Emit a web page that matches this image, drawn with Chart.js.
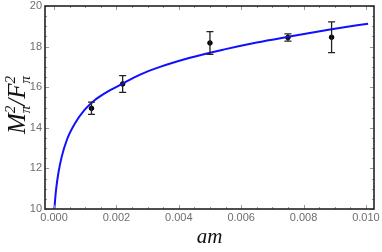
<!DOCTYPE html>
<html>
<head>
<meta charset="utf-8">
<script src="https://cdn.jsdelivr.net/npm/chart.js@4/dist/chart.umd.min.js"></script>
<style>
  html, body { margin: 0; padding: 0; background: #fff; }
  #wrap { width: 382px; height: 252px; }
</style>
</head>
<body>
<div id="wrap"><canvas id="c" width="382" height="252"></canvas></div>
<script>
// lattice points (am, M^2/F^2) with errors
var amPoints = [0.0012, 0.0022, 0.0050, 0.0075, 0.0089];
var ratioPoints = [14.96, 16.16, 18.18, 18.45, 18.46];
var ratioErrors = [0.30, 0.41, 0.56, 0.18, 0.76];

// fit curve
var amCurve = [0.00001, 0.000064, 0.000138, 0.000247, 0.00041, 0.000673, 0.000978, 0.00131, 0.00169, 0.00212, 0.00276, 0.0034, 0.00436, 0.00543, 0.0065, 0.00746, 0.00885, 0.01007];
var ratioCurve = [10.0, 10.94, 11.76, 12.58, 13.40, 14.22, 14.88, 15.37, 15.76, 16.11, 16.62, 17.0, 17.45, 17.85, 18.2, 18.47, 18.84, 19.13];

var xTickLabels = ["0.000", "0.002", "0.004", "0.006", "0.008", "0.010"];
var yTickLabels = ["10", "12", "14", "16", "18", "20"];

var tickFont = "11px 'Liberation Sans', Arial, sans-serif";
var tickColor = "#6e6e6e";

var curveData = amCurve.map(function (x, i) { return { x: x, y: ratioCurve[i] }; });
var pointData = amPoints.map(function (x, i) { return { x: x, y: ratioPoints[i] }; });

// error bars + inward frame ticks + axis titles
var framePlugin = {
    id: "frame",
    afterDatasetsDraw: function (chart) {
        var ctx = chart.ctx;
        var xs = chart.scales.x, ys = chart.scales.y;

        // error bars
        ctx.save();
        ctx.strokeStyle = "#222";
        ctx.lineWidth = 1.3;
        for (var i = 0; i < amPoints.length; i++) {
            var px = xs.getPixelForValue(amPoints[i]);
            var top = ys.getPixelForValue(ratioPoints[i] + ratioErrors[i]);
            var bot = ys.getPixelForValue(ratioPoints[i] - ratioErrors[i]);
            ctx.beginPath();
            ctx.moveTo(px, top); ctx.lineTo(px, bot);
            ctx.moveTo(px - 3.5, top); ctx.lineTo(px + 3.5, top);
            ctx.moveTo(px - 3.5, bot); ctx.lineTo(px + 3.5, bot);
            ctx.stroke();
        }
        ctx.restore();
    },
    afterDraw: function (chart) {
        var ctx = chart.ctx;
        var xs = chart.scales.x, ys = chart.scales.y;
        var a = chart.chartArea;
        ctx.save();

        // ticks
        ctx.strokeStyle = "#999";
        ctx.lineWidth = 1;
        var v, p, len;
        for (var k = 0; k <= 20; k++) {
            v = k * 0.0005;
            p = Math.round(xs.getPixelForValue(v)) + 0.5;
            len = (k % 4 === 0) ? 4 : 2;
            ctx.beginPath();
            ctx.moveTo(p, a.bottom); ctx.lineTo(p, a.bottom - len);
            ctx.moveTo(p, a.top); ctx.lineTo(p, a.top + len);
            ctx.stroke();
        }
        for (k = 0; k <= 20; k++) {
            v = 10 + k * 0.5;
            p = Math.round(ys.getPixelForValue(v)) + 0.5;
            len = (k % 4 === 0) ? 4 : 2;
            ctx.beginPath();
            ctx.moveTo(a.left, p); ctx.lineTo(a.left + len, p);
            ctx.moveTo(a.right, p); ctx.lineTo(a.right - len, p);
            ctx.stroke();
        }

        // frame
        ctx.strokeStyle = "#222";
        ctx.lineWidth = 1.6;
        ctx.strokeRect(a.left, a.top, a.right - a.left, a.bottom - a.top);

        // tick labels
        ctx.fillStyle = tickColor;
        ctx.font = tickFont;
        ctx.textAlign = "center";
        ctx.textBaseline = "top";
        xTickLabels.forEach(function (t) {
            ctx.fillText(t, xs.getPixelForValue(parseFloat(t)), a.bottom + 3);
        });
        ctx.textAlign = "right";
        ctx.textBaseline = "middle";
        yTickLabels.forEach(function (t) {
            ctx.fillText(t, a.left - 3, ys.getPixelForValue(parseFloat(t)));
        });

        // x title
        ctx.fillStyle = "#111";
        ctx.font = "italic 21px 'Liberation Serif', 'DejaVu Serif', serif";
        ctx.textAlign = "center";
        ctx.textBaseline = "alphabetic";
        ctx.fillText("am", (a.left + a.right) / 2, 243);

        // y title: M_pi^2 / F_pi^2
        ctx.translate(25, 105);
        ctx.rotate(-Math.PI / 2);
        var big = "italic 25px 'Liberation Serif', 'DejaVu Serif', serif";
        var small = "italic 15px 'Liberation Serif', 'DejaVu Serif', serif";
        var parts = [
            ["M", big, 0, 0], ["2", small, -10, 0], ["π", small, 5, 1],
            ["/", big, 0, 0], ["F", big, 0, 0], ["2", small, -10, 0], ["π", small, 5, 1]
        ];
        var widths = [], total = 0, i, w;
        for (i = 0; i < parts.length; i++) {
            ctx.font = parts[i][1];
            w = ctx.measureText(parts[i][0]).width;
            // sub sits under the sup, only extra width counts
            if (parts[i][3] === 1) w = Math.max(w - widths[i - 1], 0);
            widths.push(w);
            total += w;
        }
        var x0 = -total / 2;
        ctx.textAlign = "left";
        var supX = 0;
        for (i = 0; i < parts.length; i++) {
            ctx.font = parts[i][1];
            if (parts[i][3] === 1) {
                ctx.fillText(parts[i][0], supX, parts[i][2]);
                x0 = Math.max(x0, supX + ctx.measureText(parts[i][0]).width);
                continue;
            }
            ctx.fillText(parts[i][0], x0, parts[i][2]);
            supX = x0;
            x0 += ctx.measureText(parts[i][0]).width;
        }
        ctx.restore();
    }
};

new Chart(document.getElementById("c").getContext("2d"), {
    type: "scatter",
    data: {
        datasets: [
            {
                data: curveData,
                showLine: true,
                borderColor: "#1010ff",
                borderWidth: 2,
                pointRadius: 0,
                cubicInterpolationMode: "monotone",
                fill: false
            },
            {
                data: pointData,
                showLine: false,
                backgroundColor: "#000",
                borderColor: "#000",
                pointRadius: 2.3
            }
        ]
    },
    options: {
        responsive: false,
        animation: false,
        events: [],
        layout: { padding: { top: 6, right: 8, left: 0, bottom: 0 } },
        plugins: { legend: { display: false }, tooltip: { enabled: false } },
        scales: {
            x: {
                type: "linear",
                min: -0.00029,
                max: 0.01026,
                grid: { display: false },
                border: { display: false },
                ticks: { display: false },
                afterFit: function (s) { s.height = 43; }
            },
            y: {
                type: "linear",
                min: 10,
                max: 20,
                grid: { display: false },
                border: { display: false },
                ticks: { display: false },
                afterFit: function (s) { s.width = 45; }
            }
        }
    },
    plugins: [framePlugin]
});
</script>
</body>
</html>
